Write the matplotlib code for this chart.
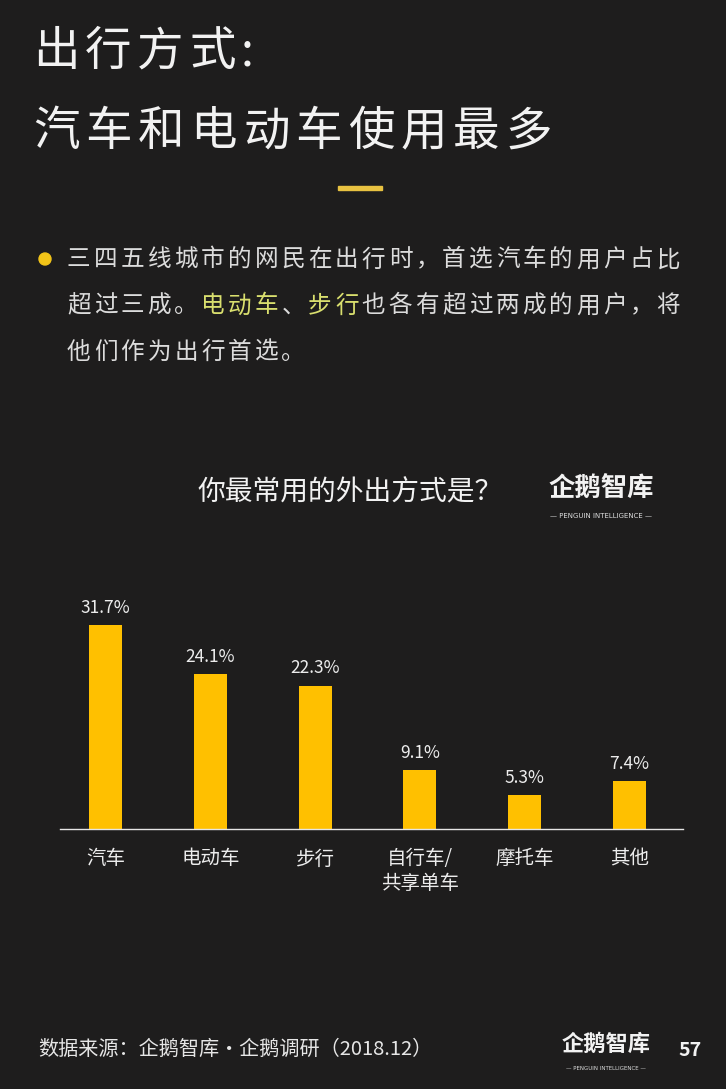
import matplotlib
matplotlib.use("Agg")
import matplotlib.pyplot as plt
from matplotlib.patches import Ellipse, Rectangle

plt.rcParams['font.family'] = ['Noto Sans CJK SC', 'DejaVu Sans']

categories = ["汽车", "电动车", "步行", "自行车/\n共享单车", "摩托车", "其他"]
values = [31.7, 24.1, 22.3, 9.1, 5.3, 7.4]

title_lines = ["出行方式:", "汽车和电动车使用最多"]
body_lines = ["三四五线城市的网民在出行时，首选汽车的用户占比",
              "超过三成。电动车、步行也各有超过两成的用户，将",
              "他们作为出行首选。"]
highlight = {1: [5, 6, 7, 9, 10]}
chart_title = "你最常用的外出方式是？"
source = "数据来源：企鹅智库·企鹅调研（2018.12）"
page_no = "57"

W, H = 726, 1089
bg = "#1e1d1d"
gold = "#ffc000"

fig = plt.figure(figsize=(W / 100, H / 100), dpi=100, facecolor=bg)


def px(x, y):
    return x / W, 1 - y / H


def spaced(text, x0, y, pitch, size, colors=None, **kw):
    # draw one char at a time so the wide letter spacing can be kept
    for i, ch in enumerate(text):
        c = colors[i] if colors else "#f2f2f2"
        fig.text(*px(x0 + i * pitch, y), ch, fontsize=size, color=c,
                 ha="left", va="center", **kw)


# headline
spaced(title_lines[0], 33, 52, 52, 33.5)
spaced(title_lines[1], 33, 132, 52.5, 33.5)

# small yellow dash
fig.patches.append(Rectangle(px(338, 190), 44 / W, 4 / H, color="#e8c241",
                             transform=fig.transFigure, figure=fig))

# bullet text
fig.patches.append(Ellipse(px(45, 259), 12 / W, 12 / H, color="#f2c418",
                           transform=fig.transFigure, figure=fig))
for k, line in enumerate(body_lines):
    cols = ["#dcdcdc"] * len(line)
    for j in highlight.get(k, []):
        cols[j] = "#d9df6e"
    spaced(line, 67, 260 + k * 46, 26.8, 17, colors=cols)

# chart title and logo
fig.text(*px(197, 492), chart_title, fontsize=20, color="#f2f2f2",
         ha="left", va="center")
fig.text(*px(601, 489), "企鹅智库", fontsize=19, color="#f2f2f2",
         fontweight="bold", ha="center", va="center")
fig.text(*px(601, 516), "— PENGUIN INTELLIGENCE —", fontsize=5, color="#dddddd",
         ha="center", va="center", family="DejaVu Sans")

# bar chart
ax = fig.add_axes([60 / W, 1 - 829 / H, 623 / W, 229 / H])
ax.set_facecolor("none")
x = list(range(len(values)))
ax.bar(x, values, width=0.315, color=gold)
ax.set_xlim(-0.434, 5.51)
ax.set_ylim(0, 35.6)
for xi, v in zip(x, values):
    ax.annotate(f"{v}%", (xi, v), xytext=(0, 6), textcoords="offset points",
                ha="center", va="bottom", fontsize=12.5, color="#ececec")
for s in ["top", "right", "left"]:
    ax.spines[s].set_visible(False)
ax.spines["bottom"].set_color("#e6e6e6")
ax.spines["bottom"].set_linewidth(1)
ax.set_yticks([])
ax.set_xticks(x)
ax.set_xticklabels(categories, fontsize=14, color="#ececec", linespacing=1.25)
ax.tick_params(axis="x", length=0, pad=14)

# footer
fig.text(*px(38, 1049), source, fontsize=14.5, color="#e6e6e6",
         ha="left", va="center")
fig.text(*px(606, 1044), "企鹅智库", fontsize=16, color="#f2f2f2",
         fontweight="bold", ha="center", va="center")
fig.text(*px(606, 1068), "— PENGUIN INTELLIGENCE —", fontsize=4, color="#dddddd",
         ha="center", va="center", family="DejaVu Sans")
fig.text(*px(690, 1050), page_no, fontsize=14, color="#f2f2f2",
         fontweight="bold", ha="center", va="center")

fig.savefig("out.png", dpi=100, facecolor=bg)
